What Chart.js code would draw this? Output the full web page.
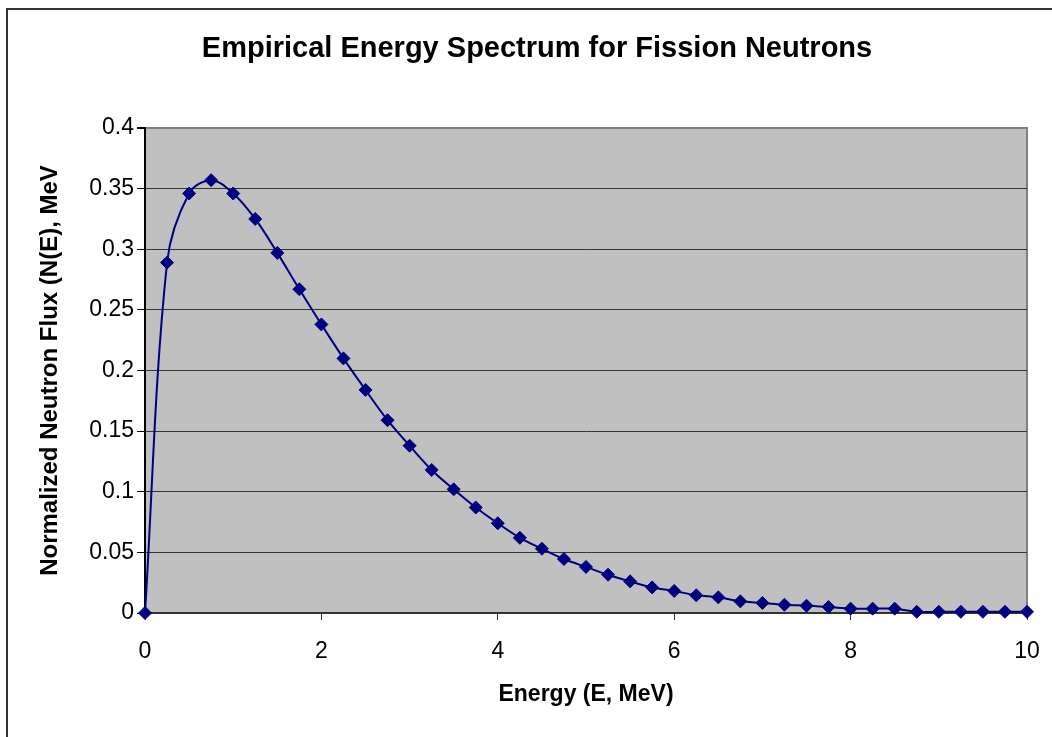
<!DOCTYPE html>
<html>
<head>
<meta charset="utf-8">
<script src="https://cdn.jsdelivr.net/npm/chart.js@4.4.1/dist/chart.umd.min.js"></script>
<style>
  html, body { margin: 0; padding: 0; background: #ffffff; }
  #wrap { position: relative; width: 1052px; height: 737px; }
</style>
</head>
<body>
<div id="wrap"><canvas id="c" width="1052" height="737"></canvas></div>
<script>
// Energy values (MeV)
const energies = [0, 0.25, 0.5, 0.75, 1, 1.25, 1.5, 1.75, 2, 2.25, 2.5, 2.75, 3, 3.25, 3.5, 3.75, 4, 4.25, 4.5, 4.75,
                  5, 5.25, 5.5, 5.75, 6, 6.25, 6.5, 6.75, 7, 7.25, 7.5, 7.75, 8, 8.25, 8.5, 8.75, 9, 9.25, 9.5, 9.75, 10];
// Normalized neutron flux
const flux = [0, 0.289, 0.346, 0.357, 0.346, 0.325, 0.297, 0.267, 0.238, 0.210, 0.184, 0.159, 0.138, 0.118, 0.102, 0.087,
              0.074, 0.062, 0.053, 0.0445, 0.038, 0.0316, 0.0261, 0.0211, 0.0182, 0.0146, 0.0129, 0.0096, 0.0083, 0.0068,
              0.006, 0.005, 0.0036, 0.0036, 0.0036, 0.001, 0.001, 0.001, 0.001, 0.001, 0.001];
const xTicks = [0, 2, 4, 6, 8, 10];
const yTicks = [0, 0.05, 0.1, 0.15, 0.2, 0.25, 0.3, 0.35, 0.4];
const yTickLabels = ['0', '0.05', '0.1', '0.15', '0.2', '0.25', '0.3', '0.35', '0.4'];

const chartTitle = 'Empirical Energy Spectrum for Fission Neutrons';
const xTitle = 'Energy (E, MeV)';
const yTitle = 'Normalized Neutron Flux (N(E), MeV';

const FONT = "'Liberation Sans', Arial, sans-serif";

const framePlugin = {
  id: 'frame',
  beforeDraw(chart) {
    const { ctx, chartArea: a } = chart;
    ctx.save();
    ctx.fillStyle = '#ffffff';
    ctx.fillRect(0, 0, chart.width, chart.height);
    // outer frame (top and left edges)
    ctx.strokeStyle = '#333333';
    ctx.lineWidth = 2;
    ctx.beginPath();
    ctx.moveTo(7, 737);
    ctx.lineTo(7, 9);
    ctx.lineTo(1052, 9);
    ctx.stroke();
    // plot area
    ctx.fillStyle = '#c0c0c0';
    ctx.fillRect(a.left, a.top, a.right - a.left, a.bottom - a.top);
    ctx.strokeStyle = '#808080';
    ctx.lineWidth = 2;
    ctx.beginPath();
    ctx.moveTo(a.left, a.top);
    ctx.lineTo(a.right, a.top);
    ctx.lineTo(a.right, a.bottom);
    ctx.stroke();
    ctx.restore();
  }
};

new Chart(document.getElementById('c'), {
  type: 'line',
  data: {
    datasets: [{
      data: energies.map((e, i) => ({ x: e, y: flux[i] })),
      borderColor: '#000080',
      backgroundColor: '#000080',
      borderWidth: 2,
      pointStyle: 'rectRot',
      pointRadius: 6.5,
      pointBorderWidth: 1,
      pointBorderColor: '#000080',
      pointBackgroundColor: '#000080',
      tension: 0.35,
      fill: false,
      clip: false
    }]
  },
  options: {
    responsive: false,
    animation: false,
    devicePixelRatio: 1,
    layout: { autoPadding: false, padding: { left: 47, right: 25, top: 0, bottom: 0 } },
    plugins: {
      legend: { display: false },
      tooltip: { enabled: false },
      title: {
        display: true,
        text: chartTitle,
        color: '#000000',
        font: { family: FONT, size: 29, weight: 'bold', lineHeight: 1.2 },
        padding: { top: 32, bottom: 61.2 }
      }
    },
    scales: {
      x: {
        type: 'linear',
        min: 0, max: 10,
        afterFit(s) { s.height = 124; s.paddingLeft = 0; s.paddingRight = 0; },
        afterBuildTicks(s) { s.ticks = xTicks.map(v => ({ value: v })); },
        ticks: { color: '#000000', font: { family: FONT, size: 23 }, padding: 18, maxRotation: 0 },
        grid: { drawOnChartArea: false, drawTicks: true, tickLength: 7, color: '#333333', lineWidth: 1 },
        border: { color: '#333333', width: 2 },
        title: {
          display: true, text: xTitle, color: '#000000',
          font: { family: FONT, size: 23, weight: 'bold', lineHeight: 1.2 },
          padding: { top: 0, bottom: 29 }
        }
      },
      y: {
        type: 'linear',
        min: 0, max: 0.4,
        afterFit(s) { s.width = 98; s.paddingTop = 0; s.paddingBottom = 0; },
        afterBuildTicks(s) { s.ticks = yTicks.map(v => ({ value: v })); },
        ticks: {
          color: '#000000', font: { family: FONT, size: 23 }, padding: 3,
          callback: (v, i) => yTickLabels[i]
        },
        grid: {
          drawTicks: true, tickLength: 8,
          color: (ctx) => (ctx.tick && ctx.tick.value === 0.4 ? '#808080' : '#333333'),
          tickColor: '#000000',
          lineWidth: (ctx) => (ctx.tick && ctx.tick.value === 0.4 ? 2 : 1)
        },
        border: { color: '#000000', width: 2 },
        title: {
          display: true, text: yTitle, color: '#000000',
          font: { family: FONT, size: 24, weight: 'bold', lineHeight: 1.2 },
          padding: { top: -11, bottom: 0 }
        }
      }
    }
  },
  plugins: [framePlugin]
});
</script>
</body>
</html>
